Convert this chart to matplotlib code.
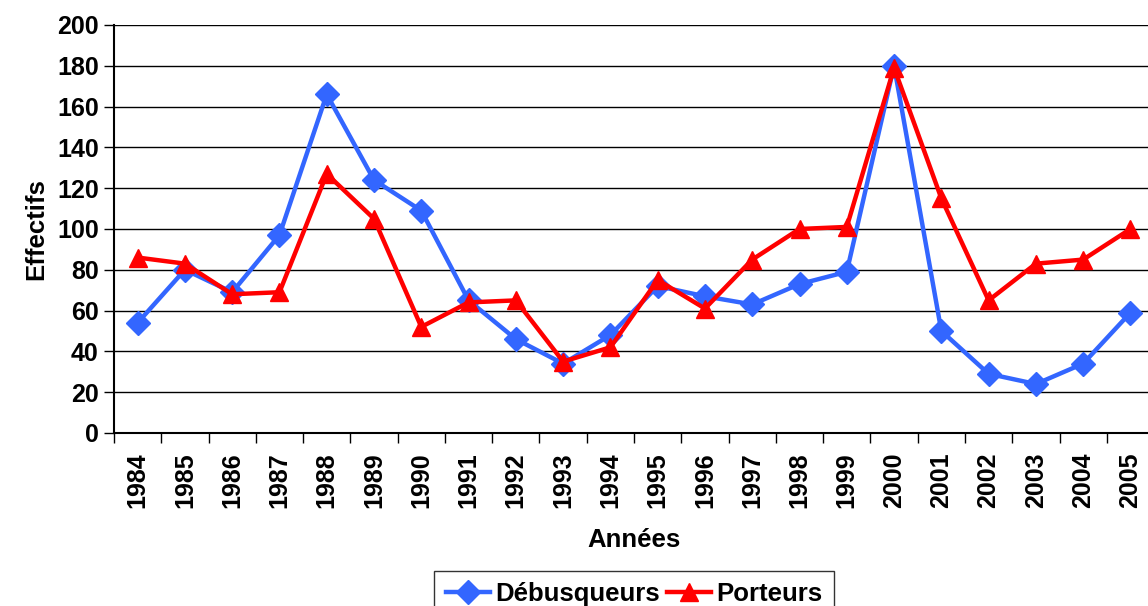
import numpy as np
import matplotlib
matplotlib.use('Agg')
import matplotlib.pyplot as plt

# data
annees = ['1984', '1985', '1986', '1987', '1988', '1989', '1990', '1991',
          '1992', '1993', '1994', '1995', '1996', '1997', '1998', '1999',
          '2000', '2001', '2002', '2003', '2004', '2005']
debusqueurs = [54, 80, 69, 97, 166, 124, 109, 65, 46, 34, 48,
               72, 67, 63, 73, 79, 180, 50, 29, 24, 34, 59]
porteurs = [86, 83, 68, 69, 127, 105, 52, 64, 65, 35, 42,
            75, 61, 85, 100, 101, 179, 115, 65, 83, 85, 100]

plt.rcParams['font.family'] = ['Liberation Sans', 'DejaVu Sans']
plt.rcParams['font.weight'] = 'bold'

fig = plt.figure(figsize=(11.48, 6.06), dpi=100)
ax = fig.add_axes([0.0993, 0.2855, 0.906, 0.6733])

x = np.arange(len(annees))
ax.plot(x, debusqueurs, color='#3366ff', lw=3.2, marker='D', ms=12.5,
        label='Débusqueurs', zorder=3)
ax.plot(x, porteurs, color='#ff0000', lw=3.2, marker='^', ms=13,
        label='Porteurs', zorder=4)

ax.set_xlim(-0.5, len(annees) - 0.5)
ax.set_ylim(0, 200)
ax.set_yticks(np.arange(0, 201, 20))
ax.yaxis.grid(True, color='black', lw=1)
ax.set_axisbelow(True)

ax.set_xticks(x)
ax.set_xticklabels(annees, rotation=90, fontsize=18, fontweight='bold')
ax.set_xticks(np.arange(-0.5, len(annees), 1), minor=True)
ax.tick_params(axis='x', which='major', length=0, pad=14)
ax.tick_params(axis='x', which='minor', length=7, width=1)
ax.tick_params(axis='y', length=7, width=1, labelsize=18, pad=4)
for lab in ax.get_yticklabels():
    lab.set_fontweight('bold')

ax.spines['top'].set_visible(False)
ax.spines['right'].set_visible(False)
ax.spines['left'].set_linewidth(1.5)
ax.spines['bottom'].set_linewidth(1.5)

ax.set_ylabel('Effectifs', fontsize=18.5, fontweight='bold', labelpad=6)
ax.set_xlabel('Années', fontsize=18.5, fontweight='bold', labelpad=14)

leg = ax.legend(loc='upper center', bbox_to_anchor=(0.5, -0.338), ncol=2,
                frameon=True, fancybox=False, edgecolor='black',
                prop={'size': 18.5, 'weight': 'bold'}, handlelength=1.7,
                handletextpad=0.2, columnspacing=0.3, borderpad=0.45,
                borderaxespad=0)
leg.get_frame().set_linewidth(1)

fig.savefig('out.png', dpi=100)
